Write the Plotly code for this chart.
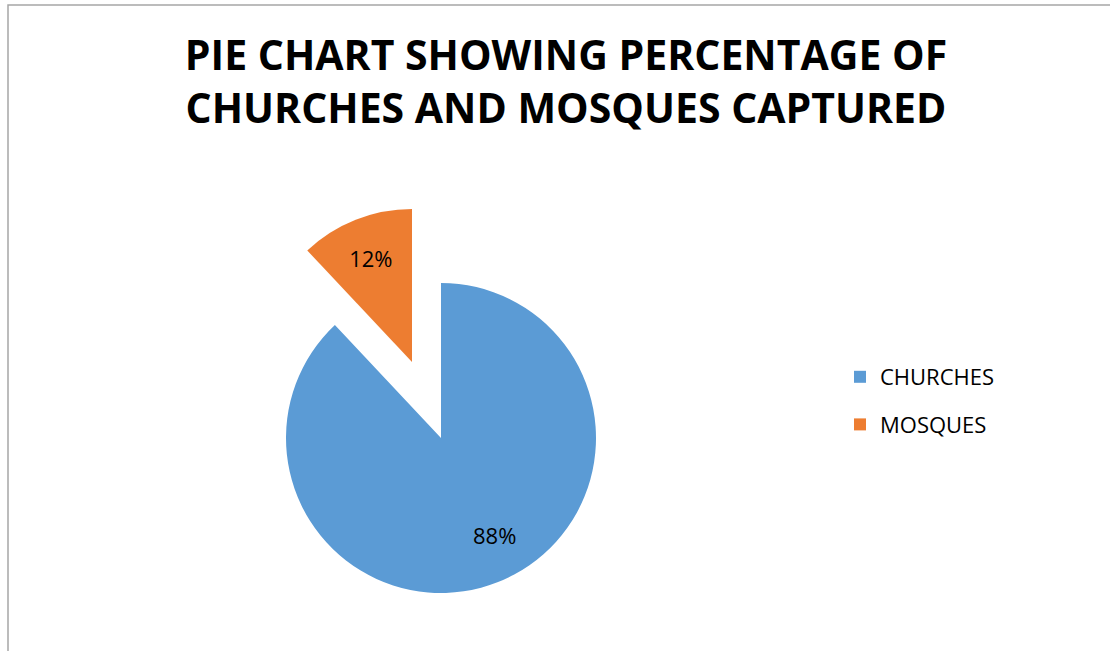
import plotly.graph_objects as go

# data
labels = ['CHURCHES', 'MOSQUES']
percent = [88, 12]
colors = ['#5B9BD5', '#ED7D31']

W, H = 1110, 651
clear = 'rgba(0,0,0,0)'


def dom(cx, cy, r):
    # square domain (paper coords) of radius r around pixel centre cx, cy
    return dict(x=[(cx - r) / W, (cx + r) / W], y=[1 - (cy + r) / H, 1 - (cy - r) / H])


pie_style = dict(
    labels=labels,
    values=percent,
    sort=False,
    direction='clockwise',
    rotation=0,
    textinfo='text',
    textposition='inside',
    insidetextorientation='horizontal',
    textfont=dict(family='Open Sans', size=22, color='#000000'),
    hoverinfo='label+percent',
    showlegend=False,
)

fig = go.Figure()

# main body of the pie (churches), mosques slice left empty here
# its label is placed with an annotation further out, like the original
fig.add_trace(go.Pie(
    marker=dict(colors=[colors[0], clear], line=dict(width=0)),
    text=['', ''],
    domain=dom(441, 438, 155),
    **pie_style))

# exploded mosques slice, drawn as its own pie shifted up-left
fig.add_trace(go.Pie(
    marker=dict(colors=[clear, colors[1]], line=dict(width=0)),
    text=['', '%d%%' % percent[1]],
    domain=dom(412, 362, 153),
    **pie_style))

# legend entries
for i, name in enumerate(labels):
    fig.add_trace(go.Scatter(
        x=[None], y=[None], mode='markers', name=name,
        legendgroup=name,
        marker=dict(symbol='square', size=12, color=colors[i]),
    ))

fig.update_layout(
    width=W, height=H,
    margin=dict(l=0, r=0, t=0, b=0, autoexpand=False),
    paper_bgcolor='white',
    plot_bgcolor='white',
    xaxis=dict(visible=False),
    yaxis=dict(visible=False),
    title=dict(
        text='PIE CHART SHOWING PERCENTAGE OF<br>CHURCHES AND MOSQUES CAPTURED',
        font=dict(family='Open Sans', size=41, color='#000000', weight='bold'),
        x=566 / W, xanchor='center', xref='container',
        y=1 - 70 / H, yanchor='middle', yref='container',
        automargin=False,
    ),
    legend=dict(
        x=840 / W, xanchor='left', xref='container',
        y=1 - 401 / H, yanchor='middle', yref='container',
        font=dict(family='Open Sans', size=22, color='#000000'),
        tracegroupgap=16,
        bgcolor=clear,
    ),
    annotations=[dict(text='%d%%' % percent[0], xref='paper', yref='paper',
                      x=494 / W, y=1 - 552 / H, showarrow=False,
                      font=dict(family='Open Sans', size=22, color='#000000'))],
    shapes=[dict(type='rect', xref='paper', yref='paper',
                 x0=8 / W, x1=1.02, y0=-0.02, y1=1 - 5 / H,
                 line=dict(color='#A6A6A6', width=1.5), layer='below')],
)

fig.write_html('out.html', config={'displayModeBar': False},
               post_script="document.body.style.margin='0';")
